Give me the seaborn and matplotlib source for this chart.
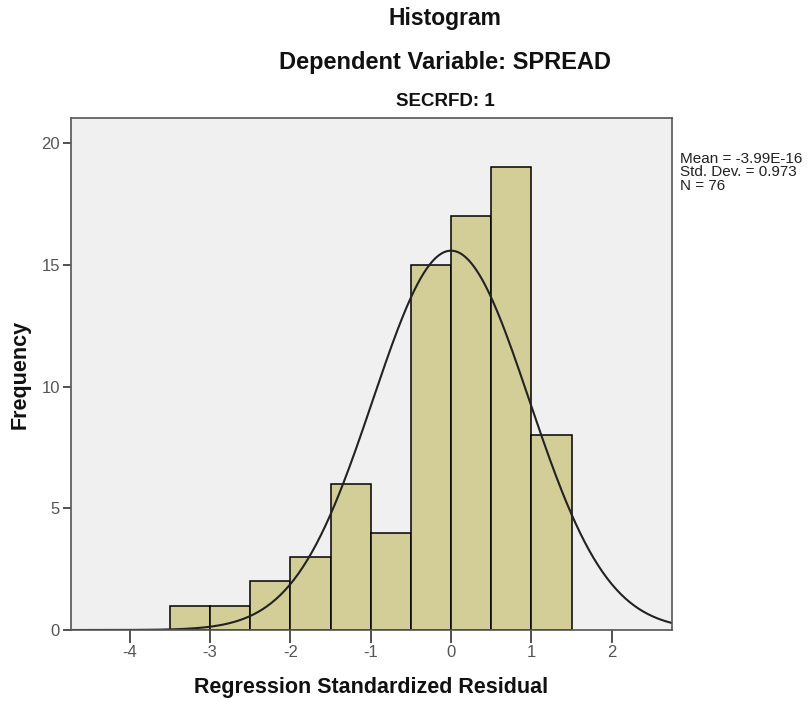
import numpy as np
import pandas as pd
import matplotlib
matplotlib.use("Agg")
import matplotlib.pyplot as plt
import seaborn as sns

# Data
bin_edges = [-3.5, -3.0, -2.5, -2.0, -1.5, -1.0, -0.5, 0.0, 0.5, 1.0, 1.5]
counts = [1, 1, 2, 3, 6, 4, 15, 17, 19, 8]
mean_val = -3.99e-16
std_val = 0.973
n_val = 76
x_ticks = [-4, -3, -2, -1, 0, 1, 2]
y_ticks = [0, 5, 10, 15, 20]

sns.set_theme(style="white")
plt.rcParams['font.family'] = ['Liberation Sans', 'DejaVu Sans']

fig = plt.figure(figsize=(8.08, 7.02), dpi=100)
ax = fig.add_axes([71/808, 72/702, 601/808, 512/702])
ax.set_facecolor("#f0f0f0")

centers = [(bin_edges[i] + bin_edges[i+1]) / 2 for i in range(len(counts))]
df = pd.DataFrame({"x": centers, "w": counts})
sns.histplot(data=df, x="x", weights="w", bins=bin_edges, ax=ax,
             color="#d3ce97", edgecolor="black", linewidth=1.1, alpha=1.0)

xlo, xhi = -4.73, 2.75
xs = np.linspace(xlo, xhi, 400)
binw = bin_edges[1] - bin_edges[0]
ys = n_val * binw * np.exp(-0.5 * ((xs - mean_val) / std_val) ** 2) / (std_val * np.sqrt(2 * np.pi))
sns.lineplot(x=xs, y=ys, ax=ax, color="#222222", linewidth=1.5)

ax.set_xlim(xlo, xhi)
ax.set_ylim(0, 21.03)
ax.set_xticks(x_ticks)
ax.set_xticklabels([str(t) for t in x_ticks])
ax.set_yticks(y_ticks)
ax.set_yticklabels([str(t) for t in y_ticks])
ax.tick_params(axis="x", direction="out", length=9, width=1.2, color="#333333",
               labelsize=12, labelcolor="#555555", pad=2, bottom=True)
ax.tick_params(axis="y", direction="out", length=6, width=1.2, color="#333333",
               labelsize=12, labelcolor="#555555", pad=2, left=True)
for s in ax.spines.values():
    s.set_color("#555555")
    s.set_linewidth(1.2)

ax.set_xlabel("Regression Standardized Residual", fontsize=15.5, fontweight="bold",
              color="#111111", labelpad=12)
ax.set_ylabel("Frequency", fontsize=15.5, fontweight="bold", color="#111111", labelpad=8)

cx = 445 / 808
fig.text(cx, 1 - 18/702, "Histogram", ha="center", va="center",
         fontsize=16.5, fontweight="bold", color="#111111")
fig.text(cx, 1 - 62/702, "Dependent Variable: SPREAD", ha="center",
         va="center", fontsize=17, fontweight="bold", color="#111111")
fig.text(cx, 1 - 102/702, "SECRFD: 1", ha="center", va="center",
         fontsize=13.5, fontweight="bold", color="#111111")

fig.text(680/808, 1 - 152/702,
         f"Mean = -3.99E-16\nStd. Dev. = {std_val}\nN = {n_val}",
         ha="left", va="top", fontsize=11, color="#222222", linespacing=0.95)

fig.savefig("out.png", dpi=100, facecolor="white")
